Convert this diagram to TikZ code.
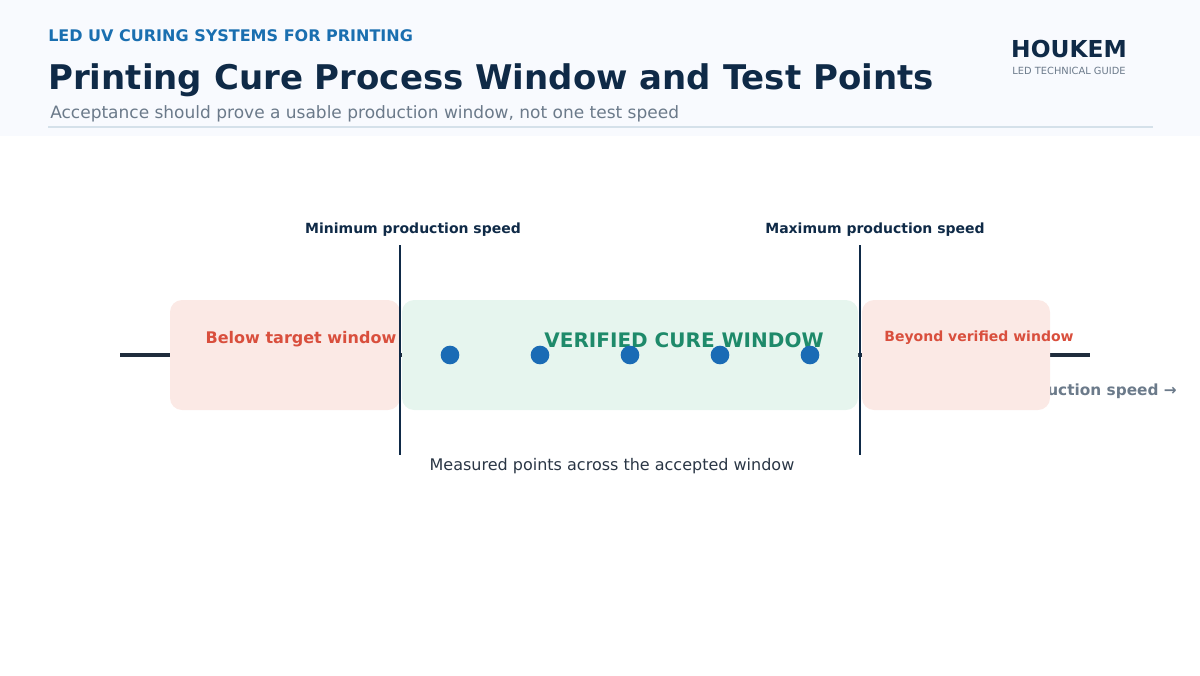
\documentclass[tikz,border=0pt]{standalone}
\usepackage{fontspec}
\setmainfont{DejaVu Sans}
\usetikzlibrary{positioning}
\definecolor{headbg}{HTML}{F8FAFE}
\definecolor{kicker}{HTML}{1A6FB0}
\definecolor{navy}{HTML}{0F2A47}
\definecolor{slate}{HTML}{6B7A8A}
\definecolor{rule}{HTML}{D5E1EA}
\definecolor{axis}{HTML}{1F2D3D}
\definecolor{pinkbg}{HTML}{FBE9E5}
\definecolor{greenbg}{HTML}{E6F5EE}
\definecolor{redtxt}{HTML}{D94F3D}
\definecolor{greentxt}{HTML}{1E8A6A}
\definecolor{dot}{HTML}{1A6BB5}
\definecolor{bodytxt}{HTML}{2A3645}
\tikzset{
  zone/.style = {rounded corners=9pt, draw=none},
  limit/.style = {line width=2.2pt, draw=navy},
  point/.style = {circle, fill=dot, inner sep=0pt, minimum size=14pt},
  lbl/.style = {anchor=base, inner sep=0pt},
}
\begin{document}
\begin{tikzpicture}[x=0.75pt, y=-0.75pt]
\useasboundingbox (0,0) rectangle (1200,675);
\fill[headbg] (0,0) rectangle (1200,136);
\node[lbl, anchor=base west, text=kicker, font=\bfseries\fontsize{12}{14}\selectfont] (kick) at (48,41) {LED UV CURING SYSTEMS FOR PRINTING};
\node[lbl, anchor=base west, text=navy, font=\bfseries\fontsize{25.5}{30}\selectfont] (title) at (48,89) {Printing Cure Process Window and Test Points};
\node[lbl, anchor=base west, text=slate, font=\fontsize{12.75}{15}\selectfont] (sub) at (50,118) {Acceptance should prove a usable production window, not one test speed};
\draw[rule, line width=1.2pt] (48,127) -- (1153,127);
\node[lbl, text=navy, font=\bfseries\fontsize{17.5}{20}\selectfont] (brand) at (1069,57) {HOUKEM};
\node[lbl, text=slate, font=\fontsize{7.4}{8}\selectfont] (guide) at (1069,74) {LED TECHNICAL GUIDE};
% axis and hidden caption
\coordinate (a0) at (120,355);
\coordinate (a1) at (1090,355);
\draw[axis, line width=2.4pt] (a0) -- (a1);
\node[lbl, anchor=base east, text=slate, font=\bfseries\fontsize{11.5}{13}\selectfont] (speed) at (1177,395) {Production speed →};
% zones
\fill[zone, pinkbg] (170,300) rectangle (400,410);
\fill[zone, greenbg] (402,300) rectangle (858,410);
\fill[zone, pinkbg] (862,300) rectangle (1050,410);
\node[lbl, text=redtxt, font=\bfseries\fontsize{12}{14}\selectfont] (below) at (301,343) {Below target window};
\node[lbl, text=greentxt, font=\bfseries\fontsize{15}{18}\selectfont] (verified) at (684,347) {VERIFIED CURE WINDOW};
\node[lbl, text=redtxt, font=\bfseries\fontsize{10.5}{12}\selectfont] (beyond) at (979,341) {Beyond verified window};
% limits
\coordinate (m0) at (400,245); \coordinate (m1) at (400,455);
\coordinate (x0) at (860,245); \coordinate (x1) at (860,455);
\draw[limit] (m0) -- (m1);
\draw[limit] (x0) -- (x1);
\node[lbl, text=navy, font=\bfseries\fontsize{10.5}{12}\selectfont] (minl) at (413,233) {Minimum production speed};
\node[lbl, text=navy, font=\bfseries\fontsize{10.5}{12}\selectfont] (maxl) at (875,233) {Maximum production speed};
% test points
\foreach \i/\x in {1/450,2/540,3/630,4/720,5/810}
  \node[point] (p\i) at (\x,355) {};
\node[lbl, text=bodytxt, font=\fontsize{12}{14}\selectfont] (meas) at (612,470) {Measured points across the accepted window};
\end{tikzpicture}
\end{document}
